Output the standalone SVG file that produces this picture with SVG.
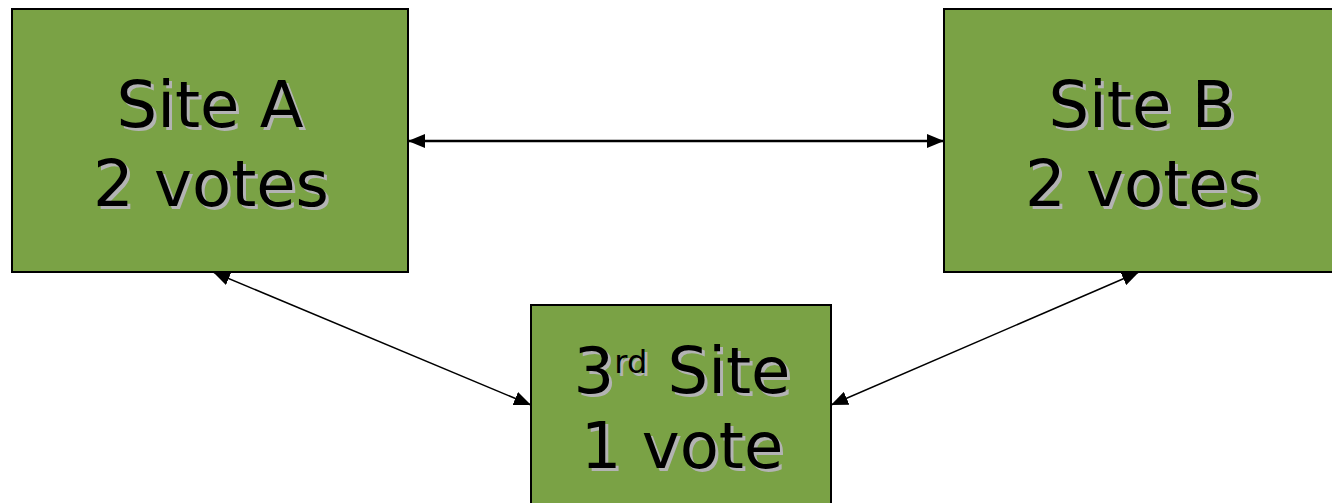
<svg xmlns="http://www.w3.org/2000/svg" width="1332" height="503" viewBox="0 0 1332 503">
  <style>
    .site { fill: #7aa245; stroke: #000; stroke-width: 2; }
    .label { font-family: "DejaVu Sans", Verdana, sans-serif; font-size: 64px; text-anchor: middle; }
    .shadow { fill: #b3b3b3; }
    .ink { fill: #000; }
    .link { stroke: #000; fill: none; }
  </style>
  <defs>
    <marker id="head" viewBox="0 0 17 14" refX="17" refY="7" markerWidth="17" markerHeight="14" markerUnits="userSpaceOnUse" orient="auto-start-reverse">
      <path d="M0,0 L17,7 L0,14 Z" fill="#000"/>
    </marker>
    <g id="txtA">
      <text x="210" y="127">Site A</text>
      <text x="211" y="206">2 votes</text>
    </g>
    <g id="txtB">
      <text x="1142" y="127">Site B</text>
      <text x="1143" y="206">2 votes</text>
    </g>
    <g id="txt3">
      <text x="682" y="393">3<tspan font-size="32" dy="-20">rd</tspan><tspan dy="20"> Site</tspan></text>
      <text x="682" y="468">1 vote</text>
    </g>
  </defs>

  <g id="connectors">
    <line class="link" x1="408" y1="141" x2="944" y2="141" stroke-width="2.5" marker-start="url(#head)" marker-end="url(#head)"/>
    <line class="link" x1="213" y1="272" x2="531" y2="405" stroke-width="1.5" marker-start="url(#head)" marker-end="url(#head)"/>
    <line class="link" x1="1139" y1="272" x2="831" y2="405" stroke-width="1.5" marker-start="url(#head)" marker-end="url(#head)"/>
  </g>

  <g id="site-a">
    <rect class="site" x="12" y="9" width="396" height="263"/>
    <use href="#txtA" class="label shadow" x="3" y="3"/>
    <use href="#txtA" class="label ink"/>
  </g>

  <g id="site-b">
    <rect class="site" x="944" y="9" width="400" height="263"/>
    <use href="#txtB" class="label shadow" x="3" y="3"/>
    <use href="#txtB" class="label ink"/>
  </g>

  <g id="site-3">
    <rect class="site" x="531" y="305" width="300" height="210"/>
    <use href="#txt3" class="label shadow" x="3" y="3"/>
    <use href="#txt3" class="label ink"/>
  </g>
</svg>
